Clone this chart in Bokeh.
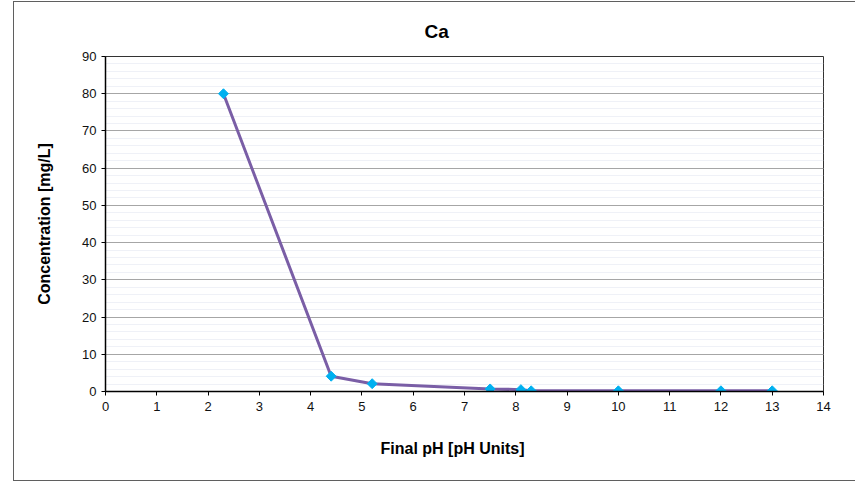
import math
from bokeh.plotting import figure
from bokeh.models import SingleIntervalTicker, Title, Range1d
from bokeh.embed import file_html
from bokeh.resources import INLINE

ph = [2.3, 4.4, 5.2, 7.5, 8.1, 8.3, 10, 12, 13]
conc = [80, 4.1, 2.1, 0.7, 0.5, 0.2, 0.2, 0.2, 0.2]
x_ticks = list(range(0, 15))
y_ticks = list(range(0, 100, 10))

FONT = "Liberation Sans"

p = figure(width=842, height=480, output_backend="svg", toolbar_location=None,
           x_range=Range1d(0, 14), y_range=Range1d(0, 90),
           min_border_left=91, min_border_right=33, min_border_top=54, min_border_bottom=91)
p.styles = {"border-left": "1px solid #5f5f5f", "border-top": "1px solid #5f5f5f",
            "border-bottom": "1px solid #5f5f5f",
            "margin-left": "13px", "margin-top": "1px"}

p.title.text = "Ca"
p.title.text_font = FONT
p.title.text_font_size = "19px"
p.title.text_font_style = "bold"
p.title.text_color = "#000000"
p.title.align = "left"
p.title.offset = 319
p.title.standoff = 30

p.outline_line_color = "#333333"
p.outline_line_width = 1

p.xaxis.ticker = SingleIntervalTicker(interval=1, num_minor_ticks=0)
p.yaxis.ticker = SingleIntervalTicker(interval=10, num_minor_ticks=5)
for ax in (p.xaxis[0], p.yaxis[0]):
    ax.axis_line_color = "black"
    ax.axis_line_width = 1.5
    ax.major_tick_line_color = "black"
    ax.major_tick_in = 0
    ax.major_tick_out = 4
    ax.minor_tick_line_color = None
    ax.major_label_text_font = FONT
    ax.major_label_text_font_size = "13px"
    ax.major_label_text_color = "#111111"
    ax.major_label_standoff = 6

p.yaxis.axis_label = "Concentration [mg/L]"
p.yaxis.axis_label_text_font = FONT
p.yaxis.axis_label_text_font_size = "16px"
p.yaxis.axis_label_text_font_style = "bold"
p.yaxis.axis_label_text_color = "#000000"
p.yaxis.axis_label_standoff = 26
p.yaxis.major_label_standoff = 5

xt = Title(text="Final pH [pH Units]", text_font=FONT, text_font_size="16px",
           text_font_style="bold", text_color="#000000", align="left", offset=275, standoff=49)
p.add_layout(xt, "below")

p.xgrid.grid_line_color = None
p.ygrid.grid_line_color = "#a6a6a6"
p.ygrid.grid_line_width = 1
p.ygrid.minor_grid_line_color = "#e8ebf4"
p.ygrid.minor_grid_line_alpha = 0.7

p.line(ph, conc, line_color="#7a5ea6", line_width=3)
p.scatter(ph, conc, marker="square", angle=math.pi / 4, size=7,
          fill_color="#00b0f0", line_color="#00b0f0")

open("out.html", "w").write(file_html(p, INLINE))
